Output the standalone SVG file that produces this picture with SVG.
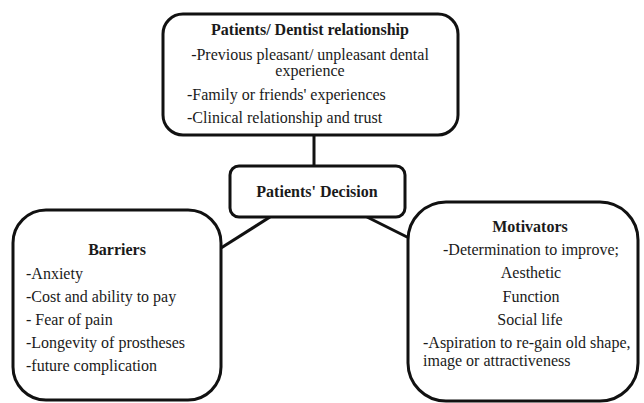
<svg xmlns="http://www.w3.org/2000/svg" width="644" height="403" viewBox="0 0 644 403">
<style>
.box{fill:#fff;stroke:#111;stroke-width:3}
.con{stroke:#111;stroke-width:3;fill:none}
text{font-family:"Liberation Serif","Times New Roman",serif;font-size:16px;fill:#1a1a1a}
.b{font-weight:bold}
.c{text-anchor:middle}
</style>
<rect width="644" height="403" fill="#fff"/>
<g id="connectors">
<line class="con" x1="314" y1="135" x2="314" y2="166"/>
<line class="con" x1="270" y1="217" x2="221" y2="248"/>
<line class="con" x1="367" y1="217" x2="409" y2="238"/>
</g>
<g id="relationship">
<rect class="box" x="163" y="14" width="295" height="121" rx="20"/>
<text class="b c" x="310" y="35">Patients/ Dentist relationship</text>
<text class="c" x="310" y="60">-Previous pleasant/ unpleasant dental</text>
<text class="c" x="310" y="76">experience</text>
<text x="187" y="100">-Family or friends' experiences</text>
<text x="187" y="123">-Clinical relationship and trust</text>
</g>
<g id="decision">
<rect class="box" x="230" y="166" width="175" height="51" rx="9"/>
<text class="b c" x="317" y="197">Patients' Decision</text>
</g>
<g id="barriers">
<rect class="box" x="13" y="210" width="208" height="190" rx="33"/>
<text class="b c" x="117" y="255">Barriers</text>
<text x="26" y="279">-Anxiety</text>
<text x="26" y="302">-Cost and ability to pay</text>
<text x="26" y="325">- Fear of pain</text>
<text x="26" y="348">-Longevity of prostheses</text>
<text x="26" y="371">-future complication</text>
</g>
<g id="motivators">
<rect class="box" x="408" y="202" width="230" height="199" rx="38"/>
<text class="b c" x="530" y="232">Motivators</text>
<text class="c" x="531" y="255">-Determination to improve;</text>
<text class="c" x="531" y="278">Aesthetic</text>
<text class="c" x="531" y="302">Function</text>
<text class="c" x="530" y="325">Social life</text>
<text x="423" y="348">-Aspiration to re-gain old shape,</text>
<text x="423" y="366">image or attractiveness</text>
</g>
</svg>
